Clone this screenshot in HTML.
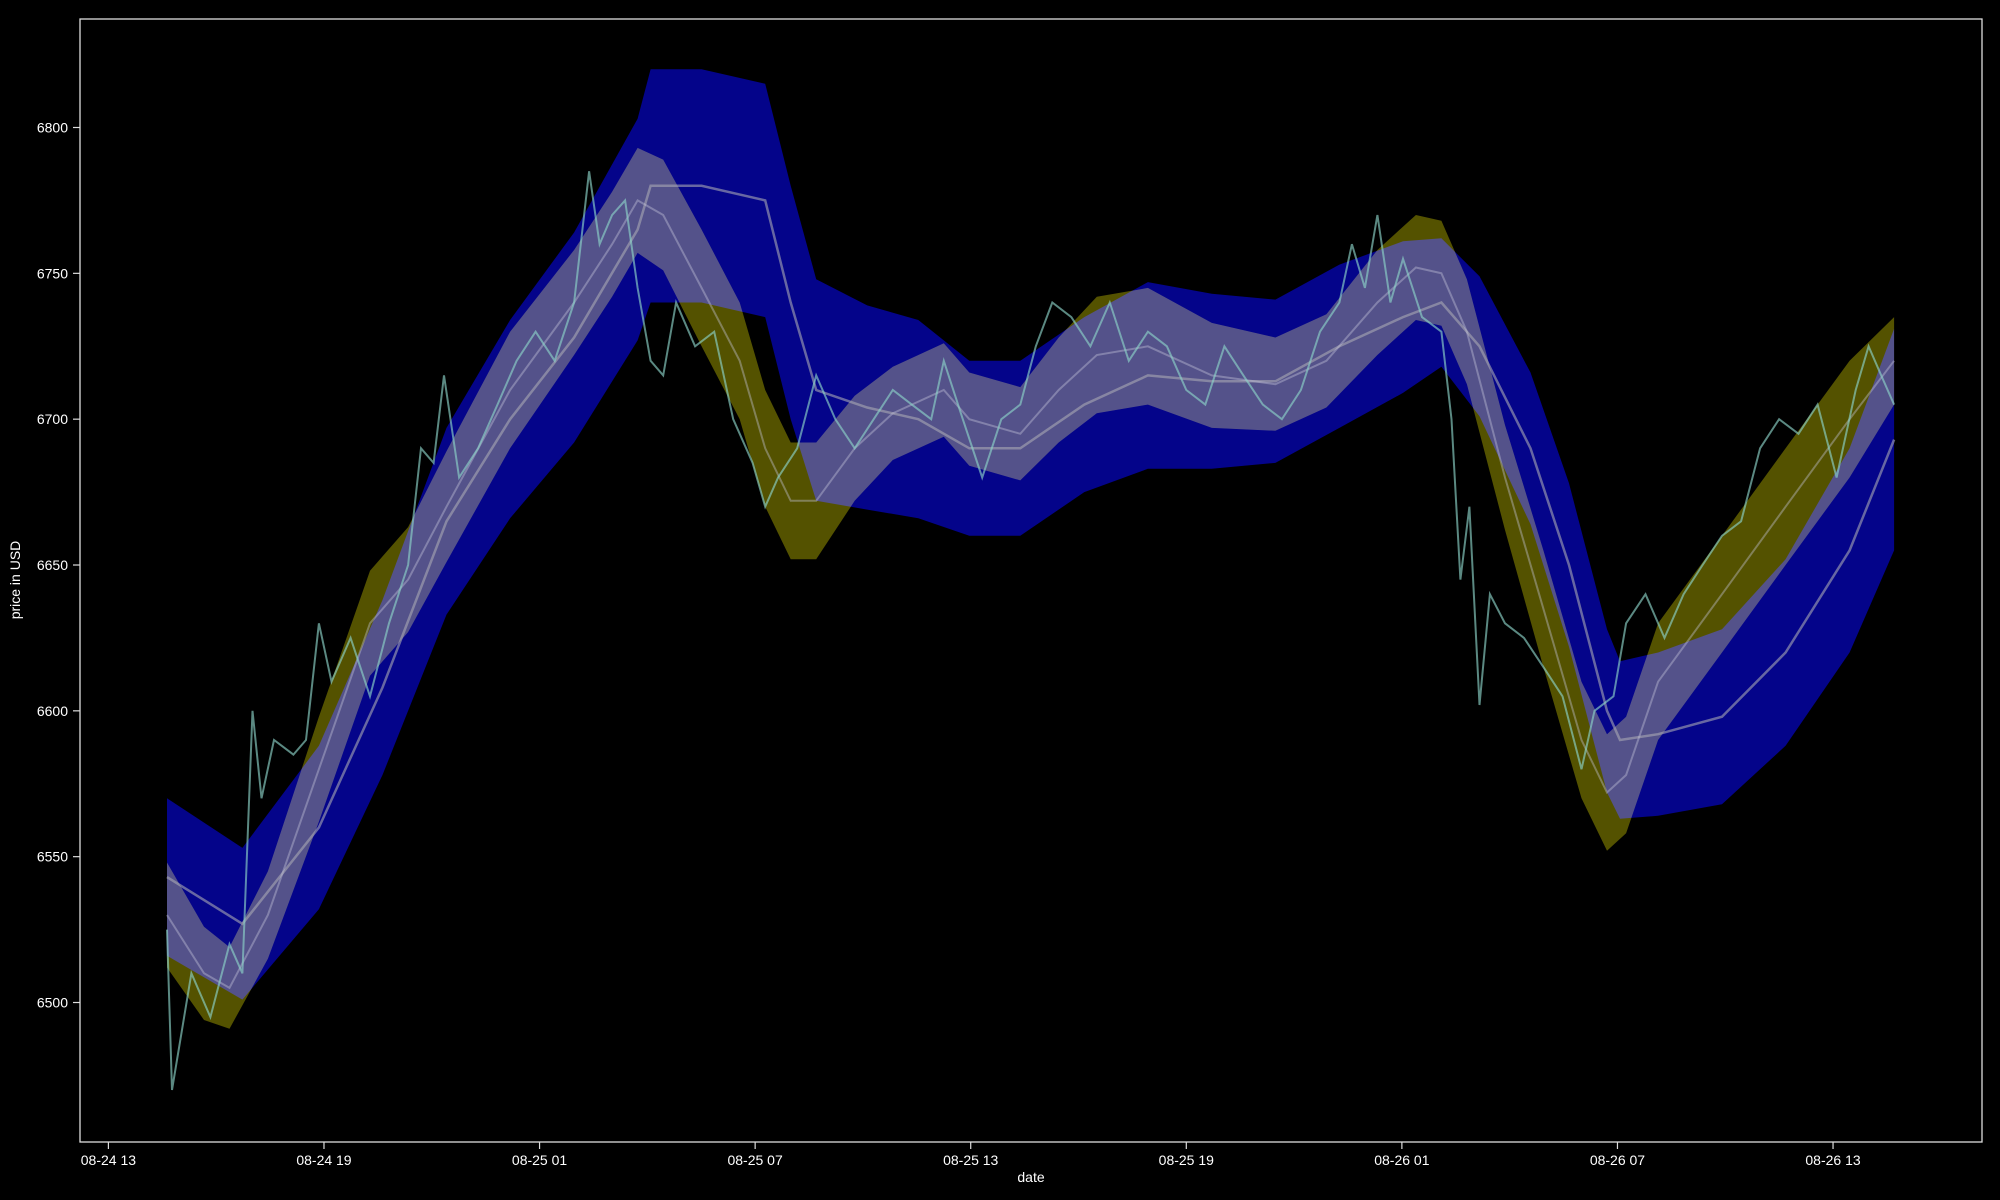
<!DOCTYPE html>
<html><head><meta charset="utf-8"><style>
html,body{margin:0;padding:0;background:#000;}
svg{display:block;font-family:"Liberation Sans",sans-serif;}
</style></head><body>
<svg id="chart" width="2000" height="1200" viewBox="0 0 2000 1200">
<rect x="0" y="0" width="2000" height="1200" fill="#000"/>
<g id="bands"></g>
<g id="lines"></g>
<rect x="80" y="19" width="1902" height="1123" fill="none" stroke="#ddd" stroke-width="1.3"/>
<g id="axes"></g>
<text x="20" y="580" fill="#fff" font-size="14" text-anchor="middle" transform="rotate(-90 20 580)">price in USD</text>
<text x="1031" y="1182" fill="#fff" font-size="14" text-anchor="middle">date</text>
</svg>
<script>
// hours since 08-24 13:00
const slowT = [1.63,3.73,5.86,7.63,9.41,11.18,12.96,14.73,15.09,16.51,18.28,18.99,19.70,21.12,22.54,23.96,25.38,27.16,28.93,30.71,32.48,34.26,36.03,37.10,38.16,39.58,40.65,41.71,42.07,43.13,44.91,46.68,48.46,49.70];
const slowMA = [6543,6527,6560,6608,6665,6700,6728,6765,6780,6780,6775,6740,6710,6704,6700,6690,6690,6705,6715,6713,6713,6725,6735,6740,6725,6690,6650,6600,6590,6592,6598,6620,6655,6693];
const blueW = [27,26,28,30,32,34,36,38,40,40,40,40,38,35,34,30,30,30,32,30,28,28,26,22,24,26,28,28,27,28,30,32,35,38];
const fastT = [1.63,2.66,3.37,4.44,5.86,7.28,8.34,9.41,11.18,12.96,14.02,14.73,15.44,16.51,17.57,18.28,18.99,19.70,20.77,21.83,23.25,23.96,25.38,26.45,27.51,28.93,30.71,32.48,33.90,35.32,36.39,37.10,37.81,38.87,39.94,41.00,41.71,42.24,43.13,44.91,46.68,48.46,49.70];
const fastMA = [6530,6510,6505,6530,6580,6630,6645,6670,6710,6740,6760,6775,6770,6745,6720,6690,6672,6672,6690,6702,6710,6700,6695,6710,6722,6725,6715,6712,6720,6740,6752,6750,6730,6680,6635,6590,6572,6578,6610,6640,6670,6700,6720];
const yellowW = [18,16,14,15,18,18,18,19,20,18,18,18,19,20,20,20,20,20,18,16,16,16,16,18,20,20,18,16,16,18,18,18,18,18,20,20,20,20,20,20,20,20,15];
const closeT = [1.63,1.77,2.31,2.84,3.37,3.73,4.01,4.26,4.61,5.15,5.50,5.86,6.21,6.74,7.28,7.81,8.34,8.70,9.05,9.34,9.76,10.29,10.83,11.36,11.89,12.42,12.96,13.38,13.67,14.02,14.38,14.73,15.09,15.44,15.80,16.33,16.86,17.39,17.93,18.28,18.64,19.17,19.70,20.23,20.77,21.30,21.83,22.36,22.90,23.25,23.78,24.32,24.85,25.38,25.81,26.27,26.80,27.33,27.87,28.40,28.93,29.46,30.00,30.53,31.06,31.59,32.13,32.66,33.19,33.72,34.26,34.61,34.97,35.32,35.68,36.03,36.56,37.10,37.38,37.63,37.88,38.16,38.45,38.87,39.40,39.94,40.47,41.00,41.36,41.89,42.24,42.78,43.31,43.84,44.37,44.91,45.44,45.97,46.50,47.04,47.57,48.10,48.63,48.99,49.34,49.70];
const closeP = [6525,6470,6510,6495,6520,6510,6600,6570,6590,6585,6590,6630,6610,6625,6605,6630,6650,6690,6685,6715,6680,6690,6705,6720,6730,6720,6740,6785,6760,6770,6775,6745,6720,6715,6740,6725,6730,6700,6685,6670,6680,6690,6715,6700,6690,6700,6710,6705,6700,6720,6700,6680,6700,6705,6725,6740,6735,6725,6740,6720,6730,6725,6710,6705,6725,6715,6705,6700,6710,6730,6740,6760,6745,6770,6740,6755,6735,6730,6700,6645,6670,6602,6640,6630,6625,6615,6605,6580,6600,6605,6630,6640,6625,6640,6650,6660,6665,6690,6700,6695,6705,6680,6710,6725,6715,6705];
const yTicks = [6500,6550,6600,6650,6700,6750,6800];
const xTickHours = [0,6,12,18,24,30,36,42,48];
const xTickLabels = ["08-24 13","08-24 19","08-25 01","08-25 07","08-25 13","08-25 19","08-26 01","08-26 07","08-26 13"];

const NS="http://www.w3.org/2000/svg";
function xS(t){return 108.4+t*35.93;}
function yS(v){return 127.5+(6800-v)*2.9167;}
function mk(tag,attrs,parent){const e=document.createElementNS(NS,tag);for(const k in attrs)e.setAttribute(k,attrs[k]);parent.appendChild(e);return e;}
function bandPath(T,M,W){
  let up=T.map((t,i)=>xS(t).toFixed(1)+","+yS(M[i]+W[i]).toFixed(1));
  let dn=T.map((t,i)=>xS(t).toFixed(1)+","+yS(M[i]-W[i]).toFixed(1)).reverse();
  return "M"+up.join("L")+"L"+dn.join("L")+"Z";
}
function linePath(T,V){return "M"+T.map((t,i)=>xS(t).toFixed(1)+","+yS(V[i]).toFixed(1)).join("L");}
const bands=document.getElementById('bands');
const lines=document.getElementById('lines');
const axes=document.getElementById('axes');

const yb=mk('path',{d:bandPath(fastT,fastMA,yellowW),fill:'rgb(84,82,0)'},bands);


const bb=mk('path',{d:bandPath(slowT,slowMA,blueW),fill:'rgb(4,4,138)',style:'mix-blend-mode:lighten'},bands);



const sl=mk('path',{d:linePath(slowT,slowMA),fill:'none',stroke:'rgba(170,170,180,0.6)','stroke-width':2.5},lines);


const fl=mk('path',{d:linePath(fastT,fastMA),fill:'none',stroke:'rgba(200,200,220,0.4)','stroke-width':2},lines);


const cl=mk('path',{d:linePath(closeT,closeP),fill:'none',stroke:'rgba(140,210,200,0.65)','stroke-width':2},lines);



yTicks.forEach(v=>{
  const y=yS(v);
  const tk=mk('line',{x1:73,x2:80,y1:y,y2:y,stroke:'#ddd','stroke-width':1.2},axes);
  
  
  const tx=mk('text',{x:68,y:y+5,fill:'#fff','font-size':14,'text-anchor':'end'},axes);
  tx.textContent=v;
  
  
});
xTickHours.forEach((h,i)=>{
  const x=xS(h);
  const tk=mk('line',{x1:x,x2:x,y1:1142,y2:1149,stroke:'#ddd','stroke-width':1.2},axes);
  
  
  const tx=mk('text',{x:x,y:1165,fill:'#fff','font-size':14,'text-anchor':'middle'},axes);
  tx.textContent=xTickLabels[i];
  
  
});
</script>
</body></html>
